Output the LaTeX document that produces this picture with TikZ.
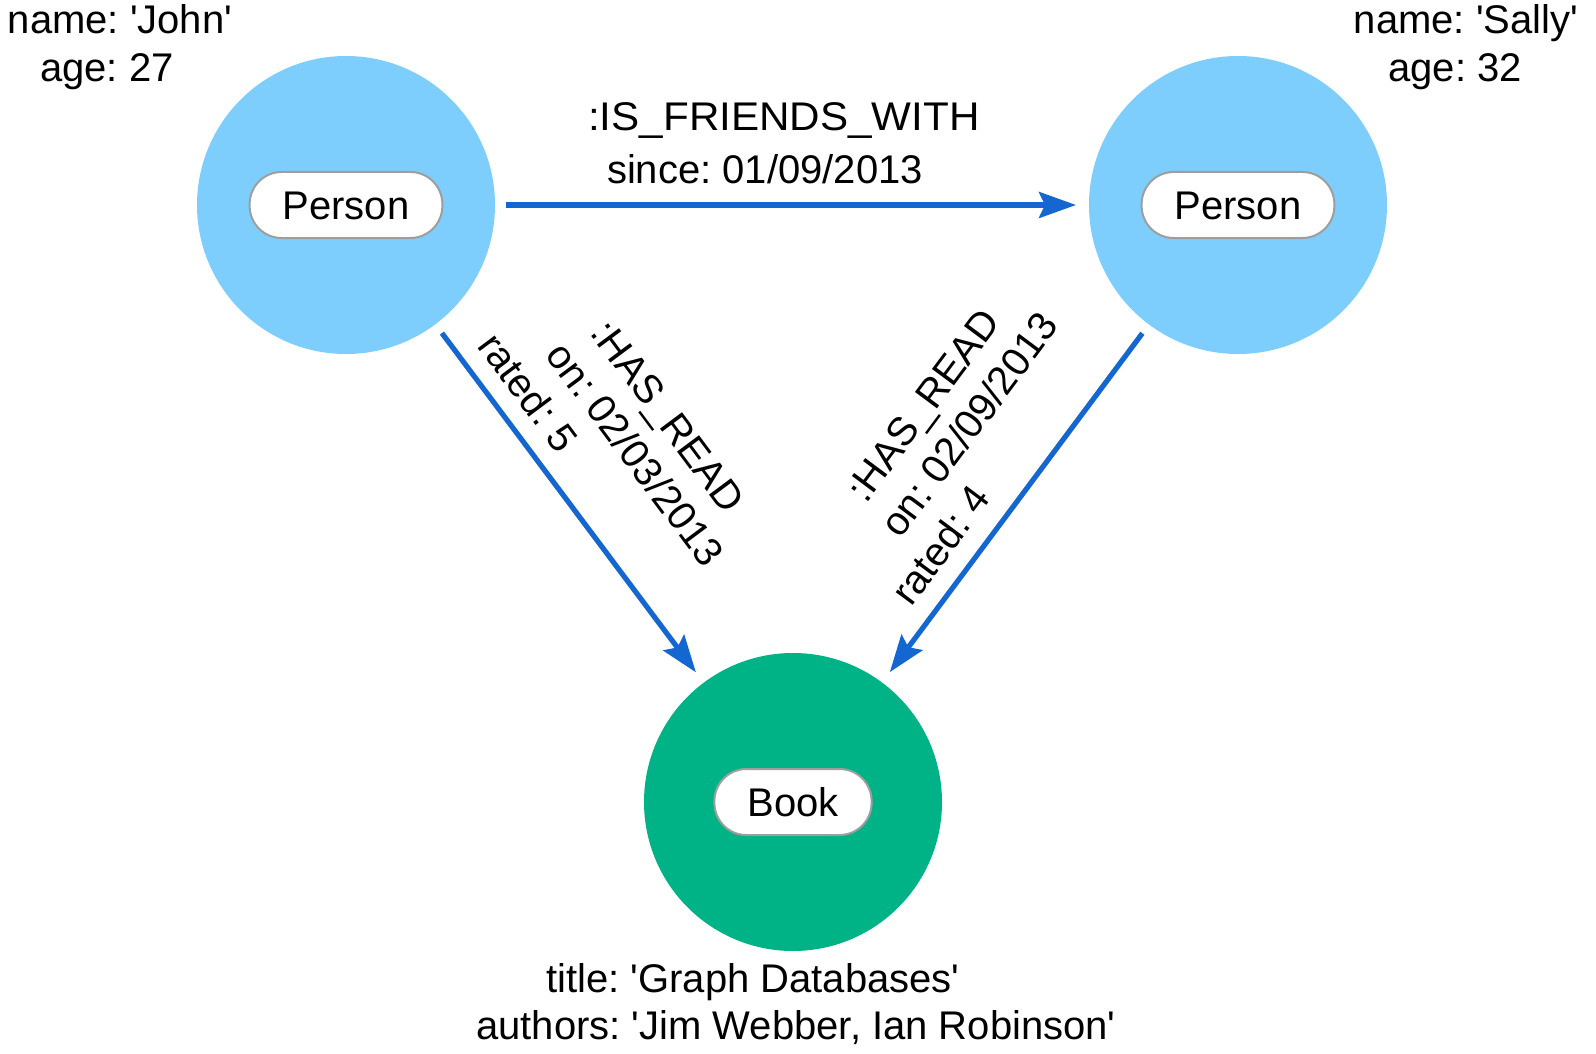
\documentclass[tikz,border=0pt]{standalone}
\usepackage{fontspec}
\setmainfont{Liberation Sans}
\usetikzlibrary{arrows.meta}
\definecolor{personblue}{HTML}{7ECEFD}
\definecolor{bookgreen}{HTML}{00B386}
\definecolor{relblue}{HTML}{1466D0}
\definecolor{pillgray}{HTML}{9E9E9E}
\newcommand\myq{\textquotesingle}
\begin{document}
\frenchspacing
\begin{tikzpicture}[x=0.5pt,y=-0.5pt,
  every node/.style={font=\fontsize{20pt}{24.5pt}\selectfont, inner sep=0pt, outer sep=0pt},
  entity/.style={circle, minimum size=149pt, fill=#1},
  pill/.style={rectangle, rounded corners=16pt, draw=pillgray, line width=1pt, fill=white,
    minimum height=33pt, inner xsep=16.5pt, text height=14.3pt, text depth=0pt},
  prop/.style={anchor=base},
  relprop/.style={align=left, anchor=center},
  rel/.style={draw=relblue, line width=2.6pt,
    -{Stealth[length=18.5pt,width=13pt,inset=3pt]}, shorten <=5.5pt, shorten >=6.5pt}
]
\useasboundingbox (0,0) rectangle (1596,1054);
\fill[white] (0,0) rectangle (1596,1054);

% entities
\node[entity=personblue] (john)  at (346,205) {};
\node[entity=personblue] (sally) at (1238,205) {};
\node[entity=bookgreen]  (book)  at (793,802) {};
\node[pill] (johnlbl)  at (john.center)  {Person};
\node[pill] (sallylbl) at (sally.center) {Person};
\node[pill] (booklbl)  at (book.center)  {Book};

% relationships
\draw[rel] (john) -- (sally);
\draw[rel] (john) -- (book);
\draw[rel] (sally) -- (book);

% properties
\node[prop] (johnname) at (120,34) {name: \myq John\myq};
\node[prop] (johnage)  at (107,82) {age: 27};
\node[prop] (sallyname) at (1466,34) {name: \myq Sally\myq};
\node[prop] (sallyage)  at (1455,82) {age: 32};
\node[prop, xscale=1.055] (friends) at (784,131) {:IS\_FRIENDS\_WITH};
\node[prop] (since)   at (765,184) {since: 01/09/2013};
\node[prop] (title)   at (753,992) {title: \myq Graph Databases\myq};
\node[prop] (authors) at (796,1039) {authors: \myq Jim Webber, Ian Robinson\myq};

% relationship properties
\node[relprop, rotate=-53.3] (johnread) at (621,435)
  {\hspace*{28.5pt}:HAS\_READ\\ \hspace*{24pt}on: 02/03/2013\\ rated: 5};
\node[relprop, rotate=53.3] (sallyread) at (955,444)
  {\hspace*{28pt}:HAS\_READ\\ \hspace*{24pt}on: 02/09/2013\\ rated: 4};
\end{tikzpicture}
\end{document}
